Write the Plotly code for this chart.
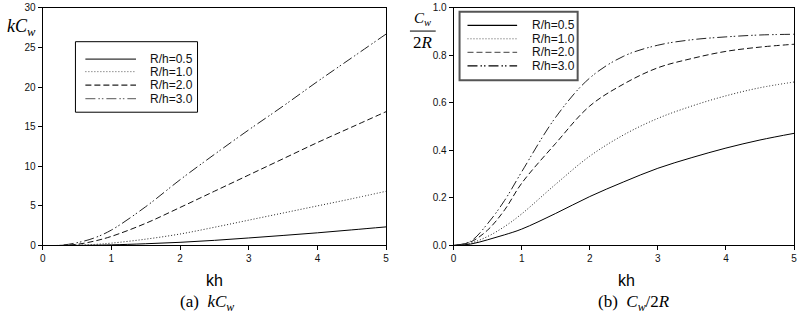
import plotly.graph_objects as go

kh = [0, 0.25, 0.5, 0.75, 1, 1.5, 2, 2.5, 3, 3.5, 4, 4.5, 5]
labels = ["R/h=0.5", "R/h=1.0", "R/h=2.0", "R/h=3.0"]
x_ticks = [0, 1, 2, 3, 4, 5]
y_ticks_a = [0, 5, 10, 15, 20, 25, 30]
y_ticks_b = [0.0, 0.2, 0.4, 0.6, 0.8, 1.0]

# (a) kCw
kcw_05 = [0, 0.0, 0.01, 0.04, 0.08, 0.22, 0.40, 0.65, 0.95, 1.27, 1.60, 1.97, 2.35]
kcw_10 = [0, 0.0, 0.04, 0.13, 0.30, 0.80, 1.45, 2.30, 3.20, 4.10, 5.00, 5.90, 6.85]
kcw_20 = [0, 0.01, 0.15, 0.55, 1.15, 2.80, 4.80, 6.85, 8.90, 10.95, 13.0, 14.95, 16.9]
kcw_30 = [0, 0.02, 0.35, 0.95, 1.95, 4.90, 8.30, 11.5, 14.6, 17.6, 20.7, 23.7, 26.7]

# (b) Cw/2R
cw_05 = [0, 0.006, 0.024, 0.045, 0.069, 0.135, 0.206, 0.268, 0.325, 0.370, 0.410, 0.444, 0.472]
cw_10 = [0, 0.010, 0.038, 0.080, 0.133, 0.258, 0.376, 0.466, 0.535, 0.587, 0.630, 0.664, 0.688]
cw_20 = [0, 0.015, 0.065, 0.150, 0.262, 0.430, 0.587, 0.680, 0.748, 0.787, 0.817, 0.835, 0.847]
cw_30 = [0, 0.018, 0.092, 0.190, 0.310, 0.540, 0.705, 0.797, 0.843, 0.866, 0.878, 0.886, 0.889]

dashes = ["solid", "1px,2px", "6px,3px", "10px,3px,1.5px,2px,1.5px,3px"]
colors = ["#000000", "#222222", "#111111", "#222222"]

fig = go.Figure()
for i, ys in enumerate([kcw_05, kcw_10, kcw_20, kcw_30]):
    fig.add_trace(go.Scatter(x=kh, y=ys, mode="lines", name=labels[i], showlegend=False,
                             line=dict(color=colors[i], width=1, dash=dashes[i], shape="spline", smoothing=1.0),
                             xaxis="x", yaxis="y"))
for i, ys in enumerate([cw_05, cw_10, cw_20, cw_30]):
    fig.add_trace(go.Scatter(x=kh, y=ys, mode="lines", name=labels[i], showlegend=False,
                             line=dict(color=colors[i], width=1, dash=dashes[i], shape="spline", smoothing=1.0),
                             xaxis="x2", yaxis="y2"))

W, H = 800, 322
def px(p):
    return p / W
def py(p):
    return (H - p) / H

ydom = [py(249), py(3)]
axis_common = dict(showline=True, linecolor="black", linewidth=1, mirror=True,
                   ticks="outside", ticklen=4, tickcolor="black", showgrid=False, zeroline=False,
                   ticklabeloverflow="allow",
                   tickfont=dict(family="Liberation Sans, Arial", size=10, color="#111111"))

fig.update_layout(
    width=W, height=H, margin=dict(l=0, r=0, t=0, b=0),
    paper_bgcolor="white", plot_bgcolor="white", showlegend=False,
    xaxis=dict(domain=[px(40), px(386)], range=[0, 5], tickvals=x_ticks, anchor="y", **axis_common),
    yaxis=dict(domain=ydom, range=[0, 30], tickvals=y_ticks_a, anchor="x", **axis_common),
    xaxis2=dict(domain=[px(454), px(797)], range=[0, 5], tickvals=x_ticks, anchor="y2", **axis_common),
    yaxis2=dict(domain=ydom, range=[0, 1.0], tickvals=y_ticks_b, tickformat=".1f", anchor="x2", **axis_common),
)

serif = "Liberation Serif, Times New Roman, serif"
sans = "Liberation Sans, Arial"
ann = [
    dict(x=px(19), y=py(23), text="<i>kC<sub>w</sub></i>", font=dict(family=serif, size=18, color="black")),
    dict(x=px(423), y=py(15), text="<i>C<sub>w</sub></i>", font=dict(family=serif, size=15, color="black")),
    dict(x=px(423), y=py(39), text="2<i>R</i>", font=dict(family=serif, size=17, color="black")),
    dict(x=px(213), y=py(285), text="kh", font=dict(family=sans, size=16, color="black")),
    dict(x=px(628), y=py(285), text="kh", font=dict(family=sans, size=16, color="black")),
    dict(x=px(206), y=py(309), text="(a)  <i>kC<sub>w</sub></i>", font=dict(family=serif, size=17, color="black")),
    dict(x=px(636), y=py(309), text="(b)  <i>C<sub>w</sub></i>/2<i>R</i>", font=dict(family=serif, size=17, color="black")),
]
for a in ann:
    a.update(xref="paper", yref="paper", showarrow=False, xanchor="center", yanchor="middle")

shapes = [dict(type="line", xref="paper", yref="paper", x0=px(410), x1=px(436), y0=py(27), y1=py(27),
               line=dict(color="black", width=1))]

# Legends (drawn as framed boxes with sample lines)
legends = [
    dict(box=(73, 38, 196, 111), line_x=(83, 134), text_x=146, rows=[56, 69, 83, 97],
         border="black", bw=1, fsize=12, sample_colors=["#333333", "#555555", "#222222", "#777777"]),
    dict(box=(460, 7, 579, 78), line_x=(468, 518), text_x=531, rows=[21, 35, 49, 63],
         border="#555555", bw=2, fsize=12, sample_colors=["#000000", "#555555", "#666666", "#000000"]),
]
for lg in legends:
    x0, y0, x1, y1 = lg["box"]
    shapes.append(dict(type="rect", xref="paper", yref="paper", x0=px(x0), x1=px(x1), y0=py(y1), y1=py(y0),
                       line=dict(color=lg["border"], width=lg["bw"]), fillcolor="white", layer="above"))
    for i, lab in enumerate(labels):
        r = lg["rows"][i]
        shapes.append(dict(type="line", xref="paper", yref="paper", x0=px(lg["line_x"][0]), x1=px(lg["line_x"][1]),
                           y0=py(r), y1=py(r), line=dict(color=lg["sample_colors"][i], width=1.3 if i != 1 else 1,
                                                         dash=dashes[i]), layer="above"))
        ann.append(dict(x=px(lg["text_x"]), y=py(r), text=lab, xref="paper", yref="paper", showarrow=False,
                        xanchor="left", yanchor="middle", font=dict(family=sans, size=lg["fsize"], color="#111111")))

fig.update_layout(annotations=ann, shapes=shapes)
fig.write_html("out.html")
